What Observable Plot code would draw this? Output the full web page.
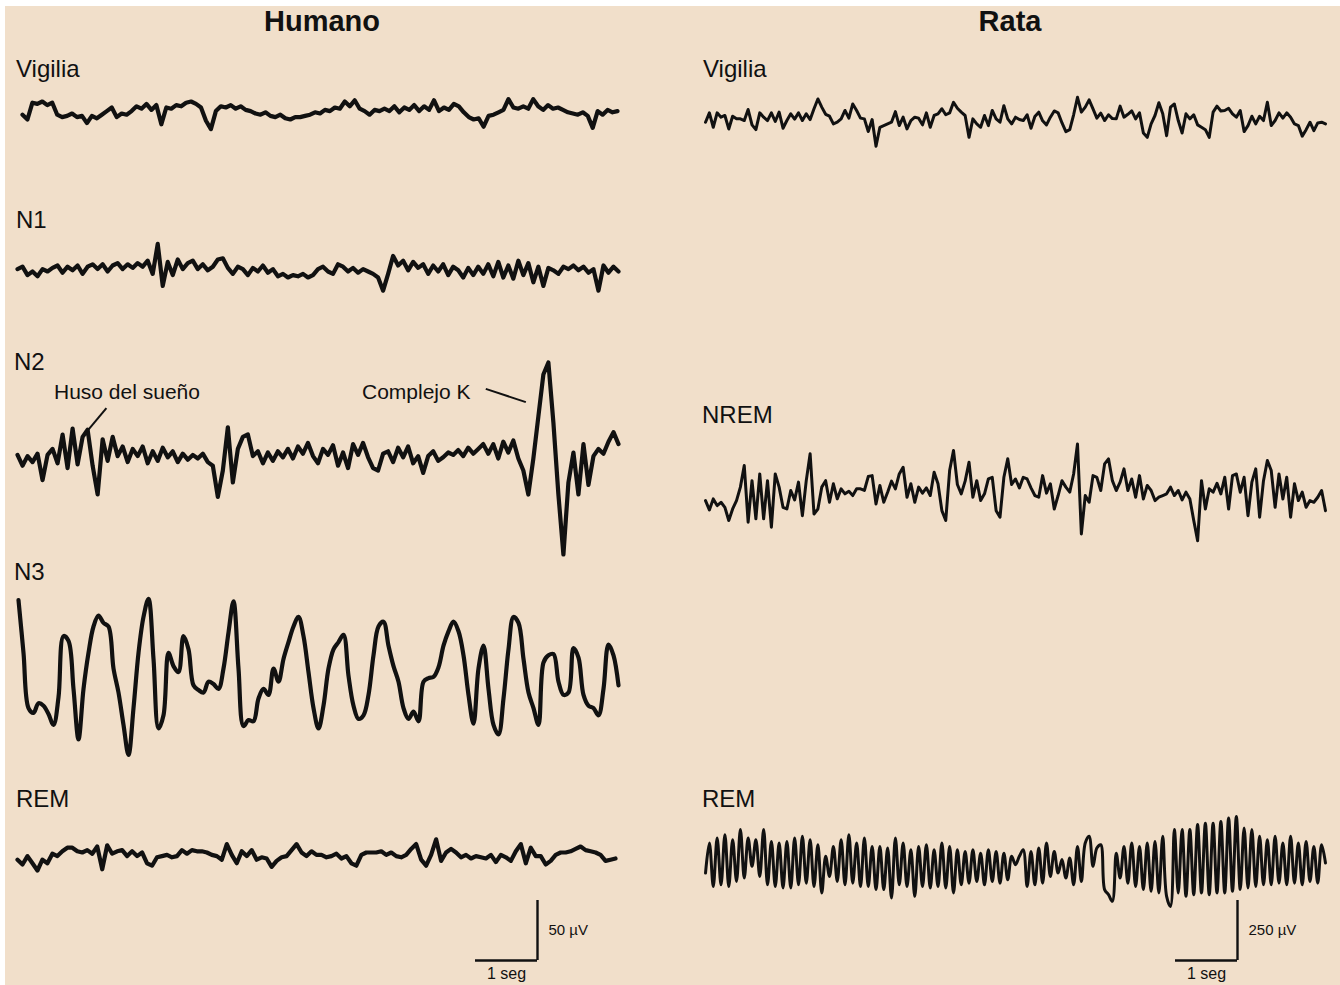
<!DOCTYPE html>
<html><head><meta charset="utf-8">
<script src="https://cdn.jsdelivr.net/npm/d3@7"></script>
<script src="https://cdn.jsdelivr.net/npm/@observablehq/plot@0.6"></script>
<style>
html,body{margin:0;padding:0;background:#fff;}
#fig{position:relative;width:1340px;height:985px;overflow:hidden;background:#fff;font-family:"Liberation Sans",Arial,Helvetica,sans-serif;color:#111;}
#panel{position:absolute;left:5px;top:6px;right:0;bottom:0;background:#f1dfca;}
.lbl{position:absolute;white-space:nowrap;line-height:1;}
.pl{position:absolute;}
</style></head><body><div id="fig"><div id="panel"></div></div>
<script>
// ---------- DATA (µV) ----------
const humanDt = 0.08;   // seconds between samples (human)
const ratDt = 0.0625;   // seconds between samples (rat)

const humanVigilia = [-1,-5,9,8,10,7,9,-1,-3,-2, 0,-3,-2,-8,-2,-4,-1,2,5,-3, 0,-1,2,6,4,8,3,7,-9,5, 4,7,6,9,10,8,5,-6,-13,2, 6,5,7,4,6,3,2,0,-1,1, -2,-3,-1,-4,-5,-3,-3,-2,-1,1, 0,3,2,5,4,10,6,11,4,2, -1,3,2,4,2,6,1,5,3,7, 2,6,3,11,2,5,3,8,6,1, -3,-5,-4,-11,-2,-1,1,3,12,5, 4,6,4,12,6,3,7,4,5,3, 1,0,-1,1,-2,-12,2,-1,3,1, 2];

const humanN1 = [2,4,-3,0,-4,2,0, 3,5,-1,4,1,5,-2,4, 6,2,6,0,5,7,2,6,3,7,4,9, -2,23,-12, 8,-3,10,2,7, 9,2,6,1,4,10,11,3, -2,4,2,-3,3,0, 5,-1,2,-4,-2,-5,-3,-4, -2,-5,-3,2,4,0,-2, 6,4, 0,3,-1,2,0,-2, -5,-16, -2,13, 5,9,1,8,3,6,-2,5,0,6,-3,4,1,-5,3, -3,4,-2,6,-4,8,-5,5,-6,9,-3,7,-9,4,-12,3,1,-2, 4,2,5,1,4,-1,2, -16,5,-1,4,0];

const humanN2 = [3,-6,2,-3,4,-18,3, 8,-4,20,-8,25,-5,18,24,-6,-30,16,-2,18,2, 10,-3,8,2,10,-4,6,-2,9,1,6,-3,4,-1, 3,0,4,-3,-6, -32,-10, 26,-20,8, 18,20,2,6, -4,5,-2,6,1,8,0,10,4, 13,2,-4,8,3,11,-6,5, -8,12,3,13,1,-8,-10,4, 6,-3,9,1,10,-4,2,-12, 2,6,-2,1,5,3,7,2,9,4,8,12, 4,12,0,14,5,15, 0,-10,-30,0,35,70,80,30,-30,-80,-20,5,-30,12,-22,2,8,4,14,22,12];

const humanN3 = [67,23,-23,-27,-19,-21,-28,-37,-14,37, 33,-7,-49,-7,23,45,54,48,45,10, -10,-37,-62,-23,23,53,68,18,-40,-29, 23,12,7,37,26,-4,-8,-10,-1,-3, -7,10,40,66,10,-38,-33,-34,-15,-7, -12,10,-1,18,32,45,53,37,7,-23, -40,-21,10,26,32,38,4,-21,-32,-29, -12,21,45,49,29,12,-1,-23,-32,-26, -34,-1,2,3,11,29,41,49,41,21, -12,-36,10,29,-7,-37,-45,-15,26,53, 48,18,-10,-23,-37,15,21,22,-1,-12, -10,27,19,-12,-21,-23,-29,-7,30,21, -4];

const humanREM = [-1,-5,2,-4,-10,-1,-4,4,2,6, 9,9,6,5,7,4,10,-9,11,4, 6,7,2,6,2,5,-4,-6,1,2, 3,1,2,7,4,7,6,6,5,3, 2,-1,12,3,-4,6,2,7,-1,1, 0,-7,-2,1,2,7,12,5,2,6, 3,3,1,2,4,0,2,-4,-6,3, 5,5,5,6,3,5,2,1,3,8, 12,-1,-6,3,16,-2,5,8,5,1, 3,0,2,1,0,3,-3,3,1,-2, 6,12,-4,9,2,2,-5,-2,3,5, 5,6,8,10,7,6,5,3,-2,-1, 0];

const ratVigilia = [7,46,-14,46,28,35,-21,32,21,21, 14,60,-4,-24,46,28,14,46,10,49, -18,14,42,20,46,14,42,18,63,104, 70,40,32,0,7,21,56,24,83,56, 24,21,-32,18,-93,-14,-7,0,7,51, -7,28,-21,14,28,24,-4,46,-14,35, 42,63,38,46,90,65,49,35,-56,21, 0,-14,35,-7,56,21,7,76,21,0, 28,18,14,38,-18,31,49,13,-4,28, 54,46,4,-32,-24,38,111,49,70,100, 63,24,45,14,38,22,21,74,28,40, 54,21,46,-38,-56,0,35,88,42,-49, 70,83,14,-38,42,21,38,-4,-14,-24, -56,49,74,54,56,65,42,28,56,-32, -7,32,0,32,14,90,-7,14,46,24, 46,28,0,-7,-51,-24,7,-28,4,7, 0];

const ratNREM = [-7,-46,0,-28,-14,-35,-90,-42,-7,49, 139,-97,76,-83,104,-83,76,-118,104,49, -35,-42,35,-4,70,-70,76,188,-63,-42, 49,76,-14,63,0,42,21,32,14,42, 42,35,93,97,-21,56,-14,28,74,42, 104,132,7,63,-14,49,24,46,14,111, 63,-49,-90,118,202,60,21,74,153,7, 76,-7,21,83,90,-49,-76,90,167,60, 83,46,90,83,46,14,7,97,24,63, -42,14,76,49,28,104,229,-146,14,-14, 97,90,35,146,167,76,35,70,125,35, 83,7,97,0,56,35,-7,7,14,21, 49,14,35,-4,28,0,-90,-174,76,-42, 42,28,65,21,90,-42,97,104,28,90, -70,70,125,-76,76,160,118,-35,104,0, 90,-76,63,-7,28,-35,-7,-14,7,35, -49];

const ratREM = [-64,61,-120,82,-113,96,-120,75,-99,117, -85,82,-36,75,-78,117,-113,68,-120,61, -126,68,-126,82,-113,89,-106,75,-120,54, -147,6,-78,47,-99,75,-113,96,-106,61, -120,82,-120,47,-133,47,-133,40,-168,82, -113,61,-120,33,-161,47,-120,54,-126,33, -120,61,-126,47,-147,33,-113,26,-106,33, -99,19,-113,33,-99,26,-106,19,-92,6, -29,6,33,-120,26,-113,40,-106,61,-78, 26,-64,-8,-85,-1,-113,47,-99,61,89, -36,40,54,-133,-154,-182,19,-85,47,-106, 61,-120,47,-133,61,-140,68,-147,89,-161, -203,117,-147,117,-161,117,-154,138,-147,144, -154,144,-147,151,-147,165,-140,172,-133,124, -126,117,-120,89,-113,75,-113,89,-106,61, -113,89,-106,61,-113,68,-99,47,-106,54, -22];

const columnTitles = ["Humano", "Rata"];
const humanStages = ["Vigilia", "N1", "N2", "N3", "REM"];
const ratStages = ["Vigilia", "NREM", "REM"];
const annotationLabels = ["Huso del sueño", "Complejo K"];
// pointer segments in trace units (seconds, µV)
const pointerT1 = [1.10, 7.48], pointerV1 = [22, 58];
const pointerT2 = [1.42, 8.12], pointerV2 = [42, 47];
const scaleSeconds = 1;
const humanScaleUv = 50, ratScaleUv = 250;
const scaleTimeLabel = "1 seg";

// ---------- LAYOUT ----------
const fig = document.getElementById("fig");
const INK = "#111";
const FONT = '"Liberation Sans", Arial, Helvetica, sans-serif';
const HUMAN_PX_UV = 1.2, RAT_PX_UV = 0.24, PX_SEC = 62;

function label(text, x, baseline, size, opts = {}) {
  const d = document.createElement("div");
  d.className = "lbl";
  d.textContent = text;
  d.style.fontSize = size + "px";
  d.style.top = (baseline - 0.8465 * size) + "px";
  d.style.fontWeight = opts.bold ? "bold" : "normal";
  if (opts.center) { d.style.left = x + "px"; d.style.transform = "translateX(-50%)"; }
  else d.style.left = x + "px";
  fig.appendChild(d);
}

const M = 10;
function trace(values, dt, x0, x1, base, amp, pxUv, sw, curve, extra = []) {
  const data = values.map((v, i) => ({t: i * dt, v}));
  const T = (values.length - 1) * dt;
  const w = x1 - x0, h = 2 * amp * pxUv;
  const svg = Plot.plot({
    width: w + 2 * M, height: h + 2 * M,
    marginLeft: M, marginRight: M, marginTop: M, marginBottom: M,
    x: {domain: [0, T], axis: null},
    y: {domain: [-amp, amp], axis: null},
    style: {background: "transparent", overflow: "visible"},
    marks: [
      Plot.line(data, {x: "t", y: "v", stroke: INK, strokeWidth: sw, strokeLinejoin: "round", strokeLinecap: "round", curve}),
      ...extra
    ]
  });
  svg.classList.add("pl");
  svg.style.left = (x0 - M) + "px";
  svg.style.top = (base - amp * pxUv - M) + "px";
  fig.appendChild(svg);
}

function scaleBar(x0, y0, uv, pxUv) {
  const w = scaleSeconds * PX_SEC, h = uv * pxUv;
  const svg = Plot.plot({
    width: w + 2 * M + 60, height: h + 2 * M + 24,
    marginLeft: M, marginRight: M + 60, marginTop: M, marginBottom: M + 24,
    x: {domain: [0, scaleSeconds], axis: null},
    y: {domain: [0, uv], axis: null},
    style: {background: "transparent", overflow: "visible"},
    marks: [
      Plot.ruleY([{y: 0, a: 0, b: scaleSeconds}], {y: "y", x1: "a", x2: "b", stroke: INK, strokeWidth: 2.4}),
      Plot.ruleX([{x: scaleSeconds, a: 0, b: uv}], {x: "x", y1: "a", y2: "b", stroke: INK, strokeWidth: 2.4}),
      Plot.text([{x: scaleSeconds, y: uv / 2, s: uv + " µV"}], {x: "x", y: "y", text: "s", dx: 11, textAnchor: "start", fontSize: 15, fill: INK, fontFamily: FONT}),
      Plot.text([{x: scaleSeconds / 2, y: 0, s: scaleTimeLabel}], {x: "x", y: "y", text: "s", dy: 13, lineAnchor: "middle", fontSize: 16, fill: INK, fontFamily: FONT})
    ]
  });
  svg.classList.add("pl");
  svg.style.left = (x0 - M) + "px";
  svg.style.top = (y0 - h - M) + "px";
  fig.appendChild(svg);
}

// titles
label(columnTitles[0], 322, 32, 29, {bold: true, center: true});
label(columnTitles[1], 1010, 32, 29, {bold: true, center: true});

// stage labels
const hLab = [[16, 77], [16, 228], [14, 370], [14, 580], [16, 807]];
humanStages.forEach((s, i) => label(s, hLab[i][0], hLab[i][1], 24));
const rLab = [[703, 77], [702, 423], [702, 807]];
ratStages.forEach((s, i) => label(s, rLab[i][0], rLab[i][1], 24));
label(annotationLabels[0], 54, 399, 21);
label(annotationLabels[1], 362, 399, 21);

// human traces
trace(humanVigilia, humanDt, 22, 617, 113, 25, HUMAN_PX_UV, 4.2, "linear");
trace(humanN1, humanDt, 17, 618, 271, 30, HUMAN_PX_UV, 4.2, "linear");
const pointers = pointerT1.map((t, i) => ({t1: t, v1: pointerV1[i], t2: pointerT2[i], v2: pointerV2[i]}));
trace(humanN2, humanDt, 17, 618, 458, 90, HUMAN_PX_UV, 4.2, "linear",
  [Plot.link(pointers, {x1: "t1", y1: "v1", x2: "t2", y2: "v2", stroke: INK, strokeWidth: 2})]);
trace(humanN3, humanDt, 18, 618, 680, 80, HUMAN_PX_UV, 4.2, "catmull-rom");
trace(humanREM, humanDt, 17, 615, 858, 25, HUMAN_PX_UV, 4.2, "linear");

// rat traces
trace(ratVigilia, ratDt, 705, 1325, 123, 160, RAT_PX_UV, 3.0, "linear");
trace(ratNREM, ratDt, 705, 1325, 498, 260, RAT_PX_UV, 3.0, "linear");
trace(ratREM, ratDt, 705, 1325, 857, 230, RAT_PX_UV, 3.0, "catmull-rom");

// scale bars
scaleBar(475, 960, humanScaleUv, HUMAN_PX_UV);
scaleBar(1175, 960, ratScaleUv, RAT_PX_UV);
</script></body></html>
